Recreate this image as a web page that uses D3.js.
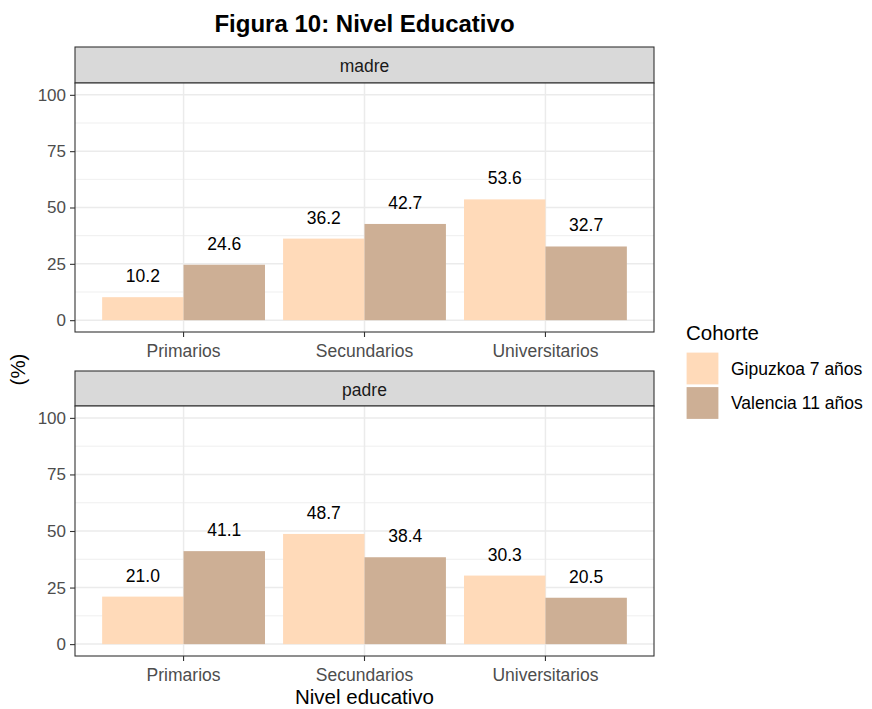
<!DOCTYPE html>
<html>
<head>
<meta charset="utf-8">
<script src="https://cdn.jsdelivr.net/npm/d3@7"></script>
<style>
  body { margin: 0; background: #fff; }
  text { font-family: "Liberation Sans", Arial, sans-serif; }
</style>
</head>
<body>
<svg id="chart" width="872" height="709"></svg>
<script>
const categories = ["Primarios", "Secundarios", "Universitarios"];
const cohorts = ["Gipuzkoa 7 años", "Valencia 11 años"];
const facets = ["madre", "padre"];
const madreGipuzkoa = [10.2, 36.2, 53.6];
const madreValencia = [24.6, 42.7, 32.7];
const padreGipuzkoa = [21.0, 48.7, 30.3];
const padreValencia = [41.1, 38.4, 20.5];
const yTicks = [0, 25, 50, 75, 100];
const yMinor = [12.5, 37.5, 62.5, 87.5];
const colors = ["#FFDAB9", "#CDAF95"];

const facetData = {
  madre: [madreGipuzkoa, madreValencia],
  padre: [padreGipuzkoa, padreValencia]
};

const svg = d3.select("#chart");
const left = 75, right = 654;

const x = d3.scaleBand().domain(categories).range([left, right])
  .paddingInner(0.1).paddingOuter(0.15);
const xInner = d3.scaleBand().domain(cohorts).range([0, x.bandwidth()]).padding(0);
const color = d3.scaleOrdinal().domain(cohorts).range(colors);

// title
svg.append("text").attr("x", (left + right) / 2).attr("y", 32)
  .attr("text-anchor", "middle").attr("font-size", 24).attr("font-weight", "bold")
  .attr("fill", "#000").text("Figura 10: Nivel Educativo");

const panels = [
  { name: "madre", stripTop: 47, top: 83, bottom: 332 },
  { name: "padre", stripTop: 371, top: 406, bottom: 656 }
];

panels.forEach(p => {
  const h = p.bottom - p.top;
  const y = d3.scaleLinear().domain([-5.25, 105.25]).range([p.bottom, p.top]);
  const g = svg.append("g");

  // strip
  g.append("rect").attr("x", left).attr("y", p.stripTop)
    .attr("width", right - left).attr("height", p.top - p.stripTop)
    .attr("fill", "#D9D9D9").attr("stroke", "#333333").attr("stroke-width", 1.1);
  g.append("text").attr("x", (left + right) / 2).attr("y", p.stripTop + 24.5)
    .attr("text-anchor", "middle").attr("font-size", 17.5).attr("fill", "#1A1A1A")
    .text(p.name);

  // panel bg
  g.append("rect").attr("x", left).attr("y", p.top)
    .attr("width", right - left).attr("height", h).attr("fill", "#fff");

  // minor grid
  g.selectAll(".minor").data(yMinor).enter().append("line")
    .attr("x1", left).attr("x2", right)
    .attr("y1", d => y(d)).attr("y2", d => y(d))
    .attr("stroke", "#EBEBEB").attr("stroke-width", 0.8);
  // major grid
  g.selectAll(".major").data(yTicks).enter().append("line")
    .attr("x1", left).attr("x2", right)
    .attr("y1", d => y(d)).attr("y2", d => y(d))
    .attr("stroke", "#EBEBEB").attr("stroke-width", 1.5);
  g.selectAll(".vmajor").data(categories).enter().append("line")
    .attr("x1", d => x(d) + x.bandwidth() / 2).attr("x2", d => x(d) + x.bandwidth() / 2)
    .attr("y1", p.top).attr("y2", p.bottom)
    .attr("stroke", "#EBEBEB").attr("stroke-width", 1.5);

  // bars
  const series = facetData[p.name];
  const rows = [];
  categories.forEach((c, i) => {
    cohorts.forEach((k, j) => rows.push({ cat: c, cohort: k, value: series[j][i] }));
  });
  g.selectAll(".bar").data(rows).enter().append("rect")
    .attr("x", d => x(d.cat) + xInner(d.cohort))
    .attr("width", xInner.bandwidth())
    .attr("y", d => y(d.value))
    .attr("height", d => y(0) - y(d.value))
    .attr("fill", d => color(d.cohort));

  g.selectAll(".lbl").data(rows).enter().append("text")
    .attr("x", d => x(d.cat) + xInner(d.cohort) + xInner.bandwidth() / 2)
    .attr("y", d => y(d.value) - 15)
    .attr("text-anchor", "middle").attr("font-size", 17.5).attr("fill", "#000")
    .text(d => d.value.toFixed(1));

  // border
  g.append("rect").attr("x", left).attr("y", p.top)
    .attr("width", right - left).attr("height", h)
    .attr("fill", "none").attr("stroke", "#333333").attr("stroke-width", 1.1);

  // y axis
  const ya = g.append("g").attr("transform", `translate(${left},0)`)
    .call(d3.axisLeft(y).tickValues(yTicks).tickSize(5).tickPadding(4));
  ya.select(".domain").remove();
  ya.selectAll(".tick line").attr("stroke", "#333333").attr("stroke-width", 1.1);
  ya.selectAll(".tick text").attr("font-size", 17).attr("fill", "#4D4D4D")
    .attr("font-family", "Liberation Sans, Arial, sans-serif");

  // x axis
  const xa = g.append("g").attr("transform", `translate(0,${p.bottom})`)
    .call(d3.axisBottom(x).tickSize(5).tickPadding(8));
  xa.select(".domain").remove();
  xa.selectAll(".tick line").attr("stroke", "#333333").attr("stroke-width", 1.1);
  xa.selectAll(".tick text").attr("font-size", 17.5).attr("fill", "#4D4D4D")
    .attr("font-family", "Liberation Sans, Arial, sans-serif");
});

// axis titles
svg.append("text").attr("x", (left + right) / 2).attr("y", 704)
  .attr("text-anchor", "middle").attr("font-size", 20.5).attr("fill", "#000")
  .text("Nivel educativo");
svg.append("text").attr("transform", "translate(25,369.5) rotate(-90)")
  .attr("text-anchor", "middle").attr("font-size", 20.5).attr("fill", "#000")
  .text("(%)");

// legend
const lg = svg.append("g").attr("transform", "translate(686,0)");
lg.append("text").attr("x", 0).attr("y", 340).attr("font-size", 20.5).attr("fill", "#000")
  .text("Cohorte");
const keys = lg.selectAll(".key").data(cohorts).enter().append("g")
  .attr("transform", (d, i) => `translate(0,${352 + i * 34.5})`);
keys.append("rect").attr("width", 33).attr("height", 33)
  .attr("fill", d => color(d)).attr("stroke", "#fff").attr("stroke-width", 1.2);
keys.append("text").attr("x", 45).attr("y", 16.5).attr("dy", "0.35em")
  .attr("font-size", 17.5).attr("fill", "#000").text(d => d);
</script>
</body>
</html>
